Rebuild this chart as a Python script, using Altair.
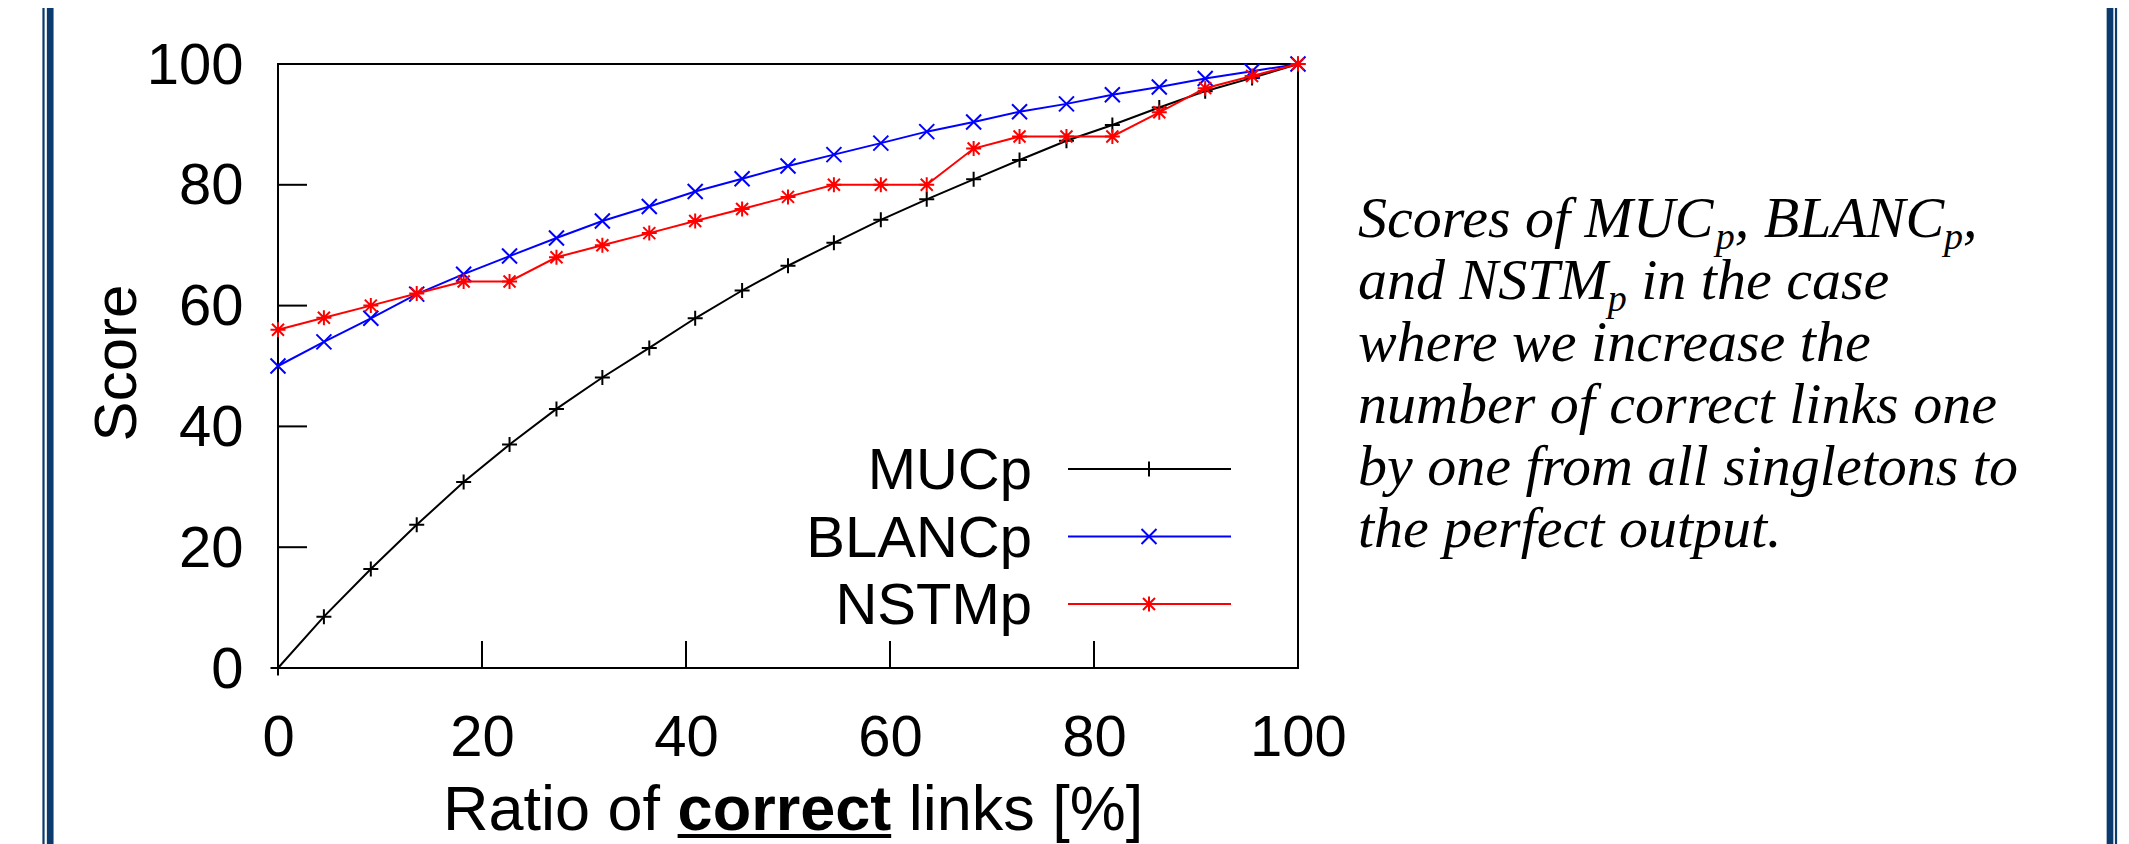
import altair as alt
import pandas as pd

# ---------------- data ----------------
ratio = [0, 4.5, 9.1, 13.6, 18.2, 22.7, 27.3, 31.8, 36.4, 40.9, 45.5, 50.0,
         54.5, 59.1, 63.6, 68.2, 72.7, 77.3, 81.8, 86.4, 90.9, 95.5, 100]
muc_p = [0, 8.5, 16.4, 23.7, 30.8, 37.0, 42.9, 48.1, 53.0, 57.9, 62.5, 66.6,
         70.4, 74.2, 77.6, 80.9, 84.1, 87.3, 89.9, 92.8, 95.5, 97.7, 100]
blanc_p = [50.0, 54.0, 57.9, 61.9, 65.2, 68.2, 71.2, 74.0, 76.4, 78.9, 81.0, 83.1,
           85.0, 86.9, 88.8, 90.4, 92.1, 93.4, 94.9, 96.2, 97.6, 98.8, 100]
nstm_p = [56, 58, 60, 62, 64, 64, 68, 70, 72, 74, 76, 78,
          80, 80, 80, 86, 88, 88, 88, 92, 96, 98, 100]

series_names = ["MUCp", "BLANCp", "NSTMp"]
series_values = [muc_p, blanc_p, nstm_p]
series_colors = ["#000000", "#0000ff", "#ff0000"]

x_ticks = [0, 20, 40, 60, 80, 100]
y_ticks = [0, 20, 40, 60, 80, 100]

x_title_parts = ["Ratio of", "correct", "links [%]"]
y_title = "Score"

# (text, kind, leading space?)  kind: n = normal, s = subscript
caption_lines = [
    [("Scores of MUC", "n", False), ("p", "s", False), (",", "n", False),
     ("BLANC", "n", True), ("p", "s", False), (",", "n", False)],
    [("and NSTM", "n", False), ("p", "s", False), ("in the case", "n", True)],
    [("where we increase the", "n", False)],
    [("number of correct links one", "n", False)],
    [("by one from all singletons to", "n", False)],
    [("the perfect output.", "n", False)],
]

# ---------------- styling / layout ----------------
W, H = 1020, 604
PAD_L, PAD_T = 270, 56
TOTAL_W, TOTAL_H = 2110, 836
SANS = "Liberation Sans"
SERIF = "Liberation Serif"
NAVY = "#0b3a6e"

PLUS = "M-1,0L1,0M0,-1L0,1"
CROSS = "M-1,-1L1,1M-1,1L1,-1"
STAR = "M-1,0L1,0M0,-1L0,1M-0.8,-0.8L0.8,0.8M-0.8,0.8L0.8,-0.8"
series_shapes = [PLUS, CROSS, STAR]

# font metrics (per em) for placing mixed-style text pieces
ARIAL = {"R": .722, "a": .556, "t": .278, "i": .222, "o": .556, " ": .278, "f": .278,
         "l": .222, "n": .556, "k": .5, "s": .5, "[": .278, "%": .889, "]": .278}
ARIAL_B = {"c": .556, "o": .611, "r": .389, "e": .556, "t": .333}
TIMES_I = {"S": .5, "c": .444, "o": .5, "r": .389, "e": .444, "s": .389, " ": .25,
           "f": .278, "M": .833, "U": .722, "C": .667, "p": .5, ",": .25, "B": .611,
           "L": .556, "A": .611, "N": .667, "a": .5, "n": .5, "d": .5, "T": .556,
           "i": .278, "h": .5, "w": .667, "t": .278, "l": .278, "k": .444, "u": .5,
           "m": .722, "b": .5, "y": .444, "g": .5, ".": .25}


def width(txt, table, size):
    return sum(table.get(ch, 0.5) for ch in txt) * size


rows = []
for name, vals in zip(series_names, series_values):
    for xv, yv in zip(ratio, vals):
        rows.append({"ratio": xv, "score": yv, "series": name})
df = pd.DataFrame(rows)

xscale = alt.Scale(domain=[0, 100], nice=False, zero=False)
yscale = alt.Scale(domain=[0, 100], nice=False, zero=False)

x_axis = alt.Axis(values=x_ticks, title=None, grid=False, ticks=False, tickSize=0,
                  domain=False, labelFont=SANS, labelFontSize=58, labelColor="black",
                  labelPadding=41, labelFlush=False, labelOverlap=False, format="d")
y_axis = alt.Axis(values=y_ticks, title=None, grid=False, ticks=False, tickSize=0,
                  domain=False, labelFont=SANS, labelFontSize=58, labelColor="black",
                  labelPadding=35, labelFlush=False, labelOverlap=False, labelOffset=2,
                  format="d")

X = alt.X("ratio:Q", scale=xscale, axis=x_axis)
Y = alt.Y("score:Q", scale=yscale, axis=y_axis)

layers = []

# inward ticks
layers.append(
    alt.Chart(pd.DataFrame({"ratio": x_ticks})).mark_rule(color="black", strokeWidth=2).encode(
        x=X, y=alt.value(H), y2=alt.value(H - 27))
)
layers.append(
    alt.Chart(pd.DataFrame({"score": y_ticks})).mark_rule(color="black", strokeWidth=2).encode(
        y=Y, x=alt.value(0), x2=alt.value(29))
)

# series lines and markers (drawn in gnuplot order)
for name, col, shp in zip(series_names, series_colors, series_shapes):
    sub = df[df["series"] == name]
    layers.append(
        alt.Chart(sub).mark_line(strokeWidth=2, color=col).encode(x=X, y=Y)
    )
    layers.append(
        alt.Chart(sub).mark_point(shape=shp, size=225, strokeWidth=2, filled=False,
                                  color=col, opacity=1).encode(x=X, y=Y)
    )

# legend (inside, bottom right, label left of sample)
for i, (name, col, shp) in enumerate(zip(series_names, series_colors, series_shapes)):
    ly = 405 + 67.5 * i
    layers.append(
        alt.Chart(pd.DataFrame({"label": [name]})).mark_text(
            align="right", baseline="middle", font=SANS, fontSize=58, color="black").encode(
            x=alt.value(754), y=alt.value(ly + 3), text="label:N")
    )
    layers.append(
        alt.Chart(pd.DataFrame({"label": [name]})).mark_rule(color=col, strokeWidth=2).encode(
            x=alt.value(790), x2=alt.value(953), y=alt.value(ly))
    )
    layers.append(
        alt.Chart(pd.DataFrame({"label": [name]})).mark_point(
            shape=shp, size=225, strokeWidth=2, filled=False, color=col, opacity=1).encode(
            x=alt.value(871), y=alt.value(ly))
    )

# y title
layers.append(
    alt.Chart(pd.DataFrame({"label": [y_title]})).mark_text(
        angle=270, align="center", baseline="alphabetic", font=SANS, fontSize=60,
        color="black").encode(x=alt.value(-142), y=alt.value(299), text="label:N")
)

# x title with bold underlined word
TFS = 63
tx = 165
t_base = 766
for k, part in enumerate(x_title_parts):
    bold = (k == 1)
    if k > 0:
        tx += ARIAL[" "] * TFS
    layers.append(
        alt.Chart(pd.DataFrame({"label": [part]})).mark_text(
            align="left", baseline="alphabetic", font=SANS, fontSize=TFS,
            fontWeight="bold" if bold else "normal", color="black").encode(
            x=alt.value(tx), y=alt.value(t_base), text="label:N")
    )
    w = width(part, ARIAL_B if bold else ARIAL, TFS)
    if bold:
        layers.append(
            alt.Chart(pd.DataFrame({"label": [part]})).mark_rule(color="black", strokeWidth=4).encode(
                x=alt.value(tx), x2=alt.value(tx + w), y=alt.value(t_base + 6))
        )
    tx += w

# caption on the right (italic serif, subscripts)
CFS, SFS = 58, 38
cap_x = 1080
for li, pieces in enumerate(caption_lines):
    by = 173 + 62 * li
    px = cap_x
    for txt, kind, lead in pieces:
        is_sub = (kind == "s")
        fs = SFS if is_sub else CFS
        if lead:
            px += TIMES_I[" "] * CFS
        layers.append(
            alt.Chart(pd.DataFrame({"label": [txt]})).mark_text(
                align="left", baseline="alphabetic", font=SERIF, fontSize=fs,
                fontStyle="italic", color="black").encode(
                x=alt.value(px), y=alt.value(by + (12 if is_sub else 0)), text="label:N")
        )
        px += width(txt, TIMES_I, fs)

# slide frame: double navy lines on left and right
for bx, bw in [(-234.5, 2.2), (-227.8, 6.7), (1832, 6.7), (1838, 2.2)]:
    layers.append(
        alt.Chart(pd.DataFrame({"label": ["b"]})).mark_rule(color=NAVY, strokeWidth=bw).encode(
            x=alt.value(bx), y=alt.value(-80), y2=alt.value(830))
    )

chart = alt.layer(*layers).properties(
    width=W, height=H,
    autosize=alt.AutoSizeParams(type="none"),
    padding={"left": PAD_L, "top": PAD_T, "right": TOTAL_W - PAD_L - W,
             "bottom": TOTAL_H - PAD_T - H},
    background="white",
).configure_view(stroke="black", strokeWidth=2)

chart.save("out.html", embed_options={"renderer": "svg", "actions": False})
